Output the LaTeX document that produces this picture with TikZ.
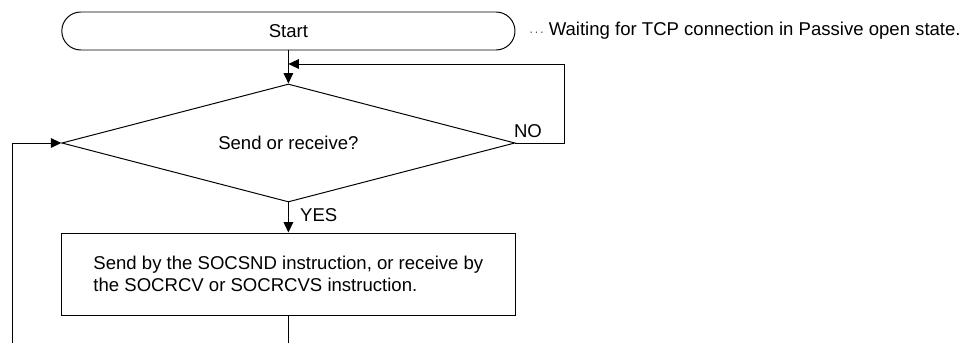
\documentclass[tikz,border=0pt]{standalone}
\usepackage{fontspec}
\setmainfont{Liberation Sans}
\usetikzlibrary{arrows.meta,positioning,shapes.geometric}

\newcommand{\flowfont}{\fontsize{13.2}{16}\selectfont}

\begin{document}
\begin{tikzpicture}[
        term/.style={draw, line width=0.7pt, rounded corners=0.475cm, minimum width=11.33cm, minimum height=0.95cm, align=center, font=\flowfont},
        decide/.style={draw, line width=0.7pt, diamond, aspect=3.8, inner sep=0pt, minimum width=11.33cm, minimum height=2.95cm, font=\flowfont},
        box/.style={draw, line width=0.7pt, minimum width=11.33cm, minimum height=2.05cm, align=left, font=\flowfont},
        lbl/.style={font=\flowfont, inner sep=1pt},
        line/.style={line width=0.7pt},
        arrow/.style={line, -{Triangle[length=0.26cm, width=0.24cm]}}
    ]
    \useasboundingbox (0,0) rectangle (24.15,8.575);
    \node[term] (start) at (7.21,7.8) {Start};
    \node[lbl, anchor=west] (note) at (13.2,7.8) {{\footnotesize$\cdots$}\ Waiting for TCP connection in Passive open state.};
    \node[decide] (check) at (7.21,5.0) {Send or receive?};
    \node[box] (comm) at (7.21,1.725) {Send by the SOCSND instruction, or receive by\\the SOCRCV or SOCRCVS instruction.};
    \node[lbl] (nolbl) at (13.2,5.3) {NO};
    \node[lbl] (yeslbl) at (7.97,3.2) {YES};
    \coordinate (noup) at (14.1,6.975);
    \coordinate (merge) at (7.21,6.975);
    \coordinate (loopend) at (7.21,0);
    \coordinate (loopback) at (0.3,0);
    \draw[arrow] (start.south) -- (check.north);
    \draw[arrow] (check.east) -| (noup) -- (merge);
    \draw[arrow] (check.south) -- (comm.north);
    \draw[line] (comm.south) -- (loopend);
    \draw[arrow] (loopback) |- (check.west);
\end{tikzpicture}
\end{document}
